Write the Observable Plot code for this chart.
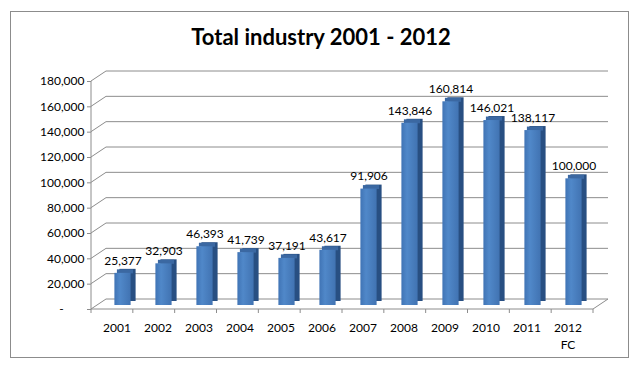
<!DOCTYPE html>
<html><head><meta charset="utf-8">
<script src="https://cdn.jsdelivr.net/npm/d3@7"></script>
<script src="https://cdn.jsdelivr.net/npm/@observablehq/plot@0.6"></script>
<style>
body{margin:0;background:#fff;}
#wrap{position:relative;width:640px;height:367px;overflow:hidden;font-family:Lato,sans-serif;}
#border{position:absolute;left:10px;top:11px;width:617px;height:345px;border:1px solid #8c8c8c;}
#title{position:absolute;left:0;top:23px;width:642px;text-align:center;font-family:Lato,sans-serif;font-weight:bold;font-size:22px;color:#000;}
#chart{position:absolute;left:0;top:0;}
</style></head><body>
<div id="wrap"><div id="border"></div><div id="chart"></div><div id="title">Total industry 2001 - 2012</div></div>
<script>
const years = ["2001","2002","2003","2004","2005","2006","2007","2008","2009","2010","2011","2012"];
const values = [25377, 32903, 46393, 41739, 37191, 43617, 91906, 143846, 160814, 146021, 138117, 100000];
const yearLabels = ["2001","2002","2003","2004","2005","2006","2007","2008","2009","2010","2011","2012\nFC"];
const yTicks = [0, 20000, 40000, 60000, 80000, 100000, 120000, 140000, 160000, 180000];

const data = years.map((y, i) => ({year: y, value: values[i]}));
const labelOf = Object.fromEntries(years.map((y, i) => [y, yearLabels[i]]));
const fmt = d3.format(",");

const DX = 15, DY = -10; // wall depth
const gridColor = "#8c8c8c";

const defs = () => {
  const d = d3.create("svg:defs");
  const g = d.append("linearGradient").attr("id", "barGrad").attr("x1", "0").attr("x2", "1").attr("y1", "0").attr("y2", "0");
  g.append("stop").attr("offset", "0%").attr("stop-color", "#4074b5");
  g.append("stop").attr("offset", "35%").attr("stop-color", "#5088c9");
  g.append("stop").attr("offset", "100%").attr("stop-color", "#4173b2");
  return d.node();
};

const frame3d = (index, scales, values, dims) => {
  const y = scales.y;
  const L = dims.marginLeft, R = dims.width - dims.marginRight;
  const bw = (R - L) / years.length;
  const y0 = y(0);
  const g = d3.create("svg:g").attr("stroke", gridColor).attr("fill", "none").attr("stroke-width", 1);
  const line = (x1, y1, x2, y2) => g.append("line").attr("x1", x1).attr("y1", y1).attr("x2", x2).attr("y2", y2);
  for (const v of yTicks) {
    const yy = y(v);
    line(L, yy, L + DX, yy + DY);
    line(L + DX, yy + DY, R + DX, yy + DY);
  }
  line(L, y(yTicks[yTicks.length - 1]), L, y0);
  line(L, y0, R, y0);
  line(R, y0, R + DX, y0 + DY);
  for (let i = 0; i <= years.length; i++) {
    const xx = L + i * bw;
    line(xx, y0, xx, y0 + 4);
  }
  return g.node();
};

const inset = 12.4;
const chart = Plot.plot({
  width: 640,
  height: 367,
  marginLeft: 91,
  marginRight: 47,
  marginTop: 81,
  marginBottom: 58,
  style: {fontFamily: "Lato, sans-serif", fontSize: "12px", color: "#000", background: "transparent"},
  x: {domain: years, padding: 0},
  y: {domain: [0, 180000]},
  marks: [
    defs,
    frame3d,
    Plot.axisY({ticks: yTicks, tickFormat: d => d === 0 ? "-\u2007\u2007\u2007" : fmt(d), tickSize: 4, tickPadding: 3, stroke: gridColor, fill: "#000", label: null}),
    Plot.axisX({tickSize: 0, tickPadding: 11, tickFormat: d => labelOf[d], fill: "#000", label: null, lineHeight: 1.4}),
    Plot.barY(data, {x: "year", y: "value", insetLeft: inset, insetRight: inset, dx: 11, dy: -8, fill: "#284f82"}),
    Plot.tickY(data, {x: "year", y: "value", insetLeft: inset, insetRight: inset, dx: 8.5, dy: -6, stroke: "#3b68a2", strokeWidth: 4}),
    Plot.barY(data, {x: "year", y: "value", insetLeft: inset, insetRight: inset, dx: 6, dy: -4, fill: "url(#barGrad)"}),
    Plot.text(data, {x: "year", y: "value", text: d => fmt(d.value), dx: 6, dy: -16.5, fontSize: 12, fill: "#000"})
  ]
});
document.getElementById("chart").appendChild(chart);
</script>
</body></html>
